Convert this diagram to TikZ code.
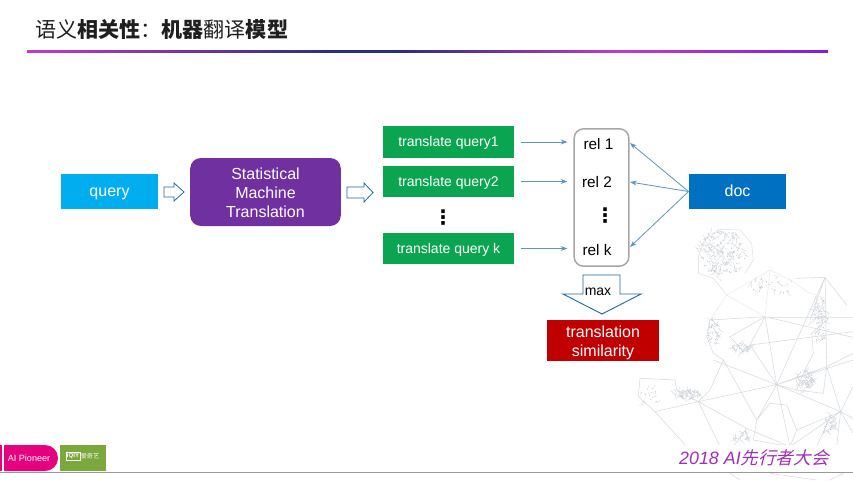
\documentclass[tikz,border=0pt]{standalone}
\usepackage{fontspec}
\setmainfont{Liberation Sans}
\newfontfamily\cjk{Noto Sans CJK SC}
\newfontfamily\cjkslant[FakeSlant=0.25]{Noto Sans CJK SC}
\newfontfamily\dejavu{DejaVu Sans}
\usetikzlibrary{arrows.meta}
\definecolor{tqgreen}{HTML}{0BA551}
\definecolor{qblue}{HTML}{00AEEF}
\definecolor{smtpurple}{HTML}{7030A0}
\definecolor{docblue}{HTML}{0070C0}
\definecolor{simred}{HTML}{C00000}
\definecolor{connblue}{HTML}{5F93BF}
\definecolor{outlineblue}{HTML}{1F6A9E}
\definecolor{netgray}{HTML}{D6DADF}
\definecolor{netdark}{HTML}{BCC3CC}
\definecolor{netpale}{HTML}{DADBE0}
\definecolor{netwarm}{HTML}{EDE8E6}
\definecolor{brandpink}{HTML}{E6007E}
\definecolor{brandgreen}{HTML}{7BA83C}
\definecolor{festpurple}{HTML}{A030B8}
\definecolor{rulemag}{HTML}{C23ACB}
\definecolor{rulenavy}{HTML}{2A2F7A}
\definecolor{rulevio}{HTML}{7A20E0}
\pgfdeclarehorizontalshading{titlerule}{100bp}{
  color(0bp)=(rulemag);
  color(25bp)=(rulemag);
  color(44bp)=(rulenavy);
  color(48bp)=(rulenavy);
  color(62bp)=(rulemag);
  color(75bp)=(rulevio);
  color(100bp)=(rulevio)}
\newcommand{\meshblob}[6]{%
  \pgfmathsetseed{#6}%
  \foreach \i in {1,...,#5}{%
    \pgfmathsetmacro\ang{rnd*360}%
    \pgfmathsetmacro\rad{sqrt(rnd)}%
    \pgfmathsetmacro\px{#1+#3*\rad*cos(\ang)}%
    \pgfmathsetmacro\py{#2+#4*\rad*sin(\ang)}%
    \pgfmathsetmacro\dx{rnd*28-14}%
    \pgfmathsetmacro\dy{rnd*28-14}%
    \draw[netmesh] (\px,\py) -- ++(\dx,\dy);
    \fill[netdark] (\px,\py) circle[radius=1.4];
  }%
}
\tikzset{
  box/.style={draw=none,inner sep=0pt,text=white,align=center},
  oneline/.style={text height=.85em,text depth=.15em},
  hollow/.style={draw=outlineblue,fill=white,line width=.6pt,line join=miter},
  conn/.style={draw=connblue,line width=.6pt,-{Stealth[length=5pt,width=3.6pt]}},
  netline/.style={draw=netgray,line width=.4pt},
  netmesh/.style={draw=netpale,line width=.3pt},
  blackdots/.style={font=\dejavu\bfseries\fontsize{15}{15}\selectfont,text=black,inner sep=0pt},
}
\begin{document}
\begin{tikzpicture}[x=.75pt,y=-.75pt]
\useasboundingbox (0,0) rectangle (853,480);
\fill[white] (0,0) rectangle (853,480);
% background network
\begin{scope}
\clip (620,220) rectangle (853,480);
\begin{scope}[shift={(630,220)},x=.25pt,y=-.25pt]
\meshblob{275}{100}{72}{72}{190}{11}
\meshblob{250}{335}{18}{45}{40}{3}
\meshblob{175}{522}{42}{14}{60}{5}
\meshblob{60}{530}{36}{40}{14}{8}
\meshblob{335}{385}{32}{15}{40}{9}
\meshblob{525}{480}{26}{32}{70}{13}
\meshblob{570}{300}{28}{65}{70}{17}
\meshblob{600}{610}{20}{25}{25}{19}
\meshblob{335}{650}{25}{20}{25}{23}
\meshblob{430}{195}{70}{25}{30}{29}
\draw[netline] (440,494)--(585,172) (440,494)--(405,290) (440,494)--(360,375)
  (440,494)--(205,545) (440,494)--(632,575) (440,494)--(590,440) (440,494)--(480,680)
  (440,494)--(380,600) (440,494)--(669,420) (440,494)--(250,420) (440,494)--(500,510)
  (205,545)--(350,625)--(480,680) (205,545)--(270,680) (205,545)--(75,575)--(170,680)
  (240,300)--(405,290)--(669,352) (405,290)--(360,375)--(669,335) (410,292)--(669,292)
  (585,172)--(500,175) (585,172)--(590,440) (585,172)--(650,255) (585,172)--(540,300)
  (590,440)--(669,400) (590,440)--(632,575) (632,575)--(669,500) (632,575)--(620,680)
  (632,575)--(480,680) (632,575)--(669,595) (500,630)--(632,575) (405,290)--(300,350)
  (240,300)--(230,350)--(250,400)--(280,420)--(240,510)--(205,545)--(140,510)--(135,480)--(30,475)--(25,530)--(75,575)
  (300,350)--(340,395)--(365,375) (500,510)--(520,460)--(550,400)--(545,340)--(590,300)
  (500,510)--(580,520)--(590,440) (380,600)--(420,550)--(470,555)--(500,630)--(480,680)--(370,660)--(380,600)
  (310,680)--(350,625) (600,590)--(580,640)--(620,610)--(600,590) (280,420)--(380,600)
  (669,640)--(632,575) (560,680)--(600,590) (300,760)--(330,780) (420,760)--(560,780) (640,760)--(600,780);
\draw[netmesh] (205,110)--(225,55)--(270,28)--(330,30)--(365,70)--(370,120)--(345,160)
  (205,110)--(205,160)--(250,175)--(290,225);
\draw[draw=netwarm,line width=.35pt] (290,225)--(420,150)--(490,185)--(530,215)--(585,235)--(590,300)
  (290,225)--(240,300) (290,225)--(405,290) (420,150)--(405,290);
\end{scope}
\end{scope}
\fill[white] (660,445) rectangle (853,471);
% title
\node[anchor=west,inner sep=0pt,text=black!88,font=\cjk\fontsize{15.8}{18}\selectfont] (title) at (35,29)
  {语义\textbf{相关性}：\textbf{机器}翻译\textbf{模型}};
\shade[shading=titlerule] (27,50) rectangle (828,52.6);
% flow
\node[box,oneline,fill=qblue,minimum width=73pt,minimum height=26pt,font=\fontsize{12}{14}\selectfont] (q) at (109.5,191.5) {query};
\node[box,fill=smtpurple,rounded corners=8pt,minimum width=113pt,minimum height=51pt,font=\fontsize{12}{14.3}\selectfont] (smt) at (265.5,192) {\rule{0pt}{9.6pt}Statistical\\Machine\\Translation};
\path[hollow] (164,187)--(174,187)--(174,183)--(184,192)--(174,201)--(174,197)--(164,197)--cycle;
\path[hollow] (347,187)--(364,187)--(364,183)--(373,192.5)--(364,202)--(364,198)--(347,198)--cycle;
\node[box,oneline,fill=tqgreen,minimum width=98pt,minimum height=24pt,font=\fontsize{10.5}{12}\selectfont] (tq1) at (448.5,142) {translate query1};
\node[box,oneline,fill=tqgreen,minimum width=98pt,minimum height=23.5pt,font=\fontsize{10.5}{12}\selectfont] (tq2) at (448.5,181.5) {translate query2};
\node[blackdots] (dotsq) at (443,218) {⋮};
\node[box,oneline,fill=tqgreen,minimum width=98pt,minimum height=23.5pt,font=\fontsize{10.5}{12}\selectfont] (tqk) at (448.5,248.5) {translate query k};
\node[draw=black!35,fill=white,line width=1.1pt,rounded corners=7pt,minimum width=41pt,minimum height=103pt,inner sep=0pt] (relbox) at (601.5,197.5) {};
\node[inner sep=0pt,font=\fontsize{11.5}{14}\selectfont] (rel1) at (598.5,144) {rel 1};
\node[inner sep=0pt,font=\fontsize{11.5}{14}\selectfont] (rel2) at (597,182) {rel 2};
\node[blackdots] (dotsr) at (605,216) {⋮};
\node[inner sep=0pt,font=\fontsize{11.5}{14}\selectfont] (relk) at (597,250) {rel k};
\node[box,oneline,fill=docblue,minimum width=73pt,minimum height=26pt,font=\fontsize{12}{14}\selectfont] (doc) at (737.5,191.5) {doc};
\coordinate (r1) at (630,143);
\coordinate (r2) at (630,182);
\coordinate (rk) at (630,247);
\draw[conn,shorten <=5pt,shorten >=4.5pt] (tq1.east) -- (tq1.east -| relbox.west);
\draw[conn,shorten <=5pt,shorten >=4.5pt] (tq2.east) -- (tq2.east -| relbox.west);
\draw[conn,shorten <=5pt,shorten >=4.5pt] (tqk.east) -- (tqk.east -| relbox.west);
\draw[conn] (doc.west) -- (r1);
\draw[conn] (doc.west) -- (r2);
\draw[conn] (doc.west) -- (rk);
% max arrow
\path[hollow,line width=.7pt] (583,275)--(620,275)--(620,294)--(641,294)--(602,314)--(563,294)--(583,294)--cycle;
\node[inner sep=0pt,font=\fontsize{10.5}{12}\selectfont] (maxlab) at (598,292) {max};
\node[box,fill=simred,minimum width=84pt,minimum height=31pt,font=\fontsize{12}{14.3}\selectfont] (sim) at (603,340.5) {\rule{0pt}{12.4pt}translation\\similarity};
% footer
\draw[draw=black!40,line width=.8pt] (0,472.3) -- (853,472.3);
\fill[brandpink] (0,445) rectangle (2,471);
\fill[brandpink] (4,445) -- (45,445) .. controls (52.2,445) and (58,450.8) .. (58,458) .. controls (58,465.2) and (52.2,471) .. (45,471) -- (4,471) -- cycle;
\node[inner sep=0pt,text=white,font=\fontsize{6.8}{8}\selectfont] (pioneer) at (29,458.5) {AI Pioneer};
\node[box,fill=brandgreen,minimum width=34.5pt,minimum height=19.5pt] (logo) at (83,458) {};
\node[draw=white,line width=.4pt,inner sep=.8pt,text=white,font=\bfseries\fontsize{4.5}{5}\selectfont] (iqiyi) at (73,456) {iQIY};
\node[inner sep=0pt,text=white,font=\cjk\fontsize{4.6}{5}\selectfont] (aqy) at (90,456.5) {爱奇艺};
\node[anchor=east,inner sep=0pt,text=festpurple] (fest) at (829,458) {{\fontsize{13.4}{15}\selectfont\itshape 2018 AI}{\cjkslant\fontsize{13.2}{15}\selectfont 先行者大会}};
\end{tikzpicture}
\end{document}
